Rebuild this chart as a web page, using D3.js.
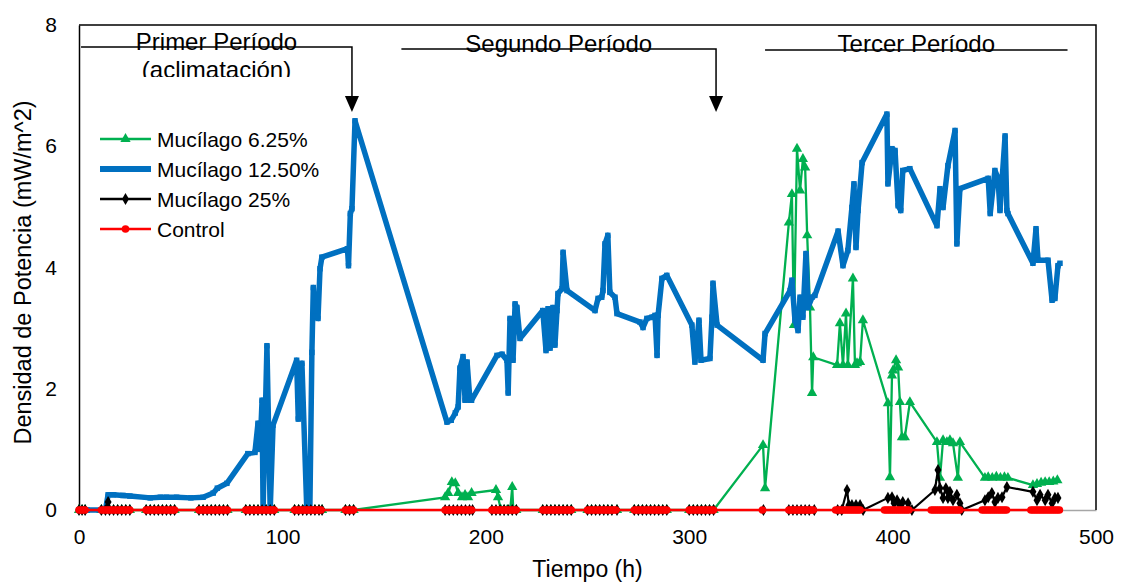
<!DOCTYPE html>
<html><head><meta charset="utf-8">
<script src="https://cdn.jsdelivr.net/npm/d3@7"></script>
<style>body{margin:0;background:#fff} text{font-family:"Liberation Sans",Arial,sans-serif;fill:#000}</style>
</head><body><svg id="c" width="1121" height="582"></svg>
<script>
// ---------------- DATA ----------------
const seriesNames = ["Mucílago 6.25%", "Mucílago 12.50%", "Mucílago 25%", "Control"];
const xTicks = [0, 100, 200, 300, 400, 500];
const yTicks = [0, 2, 4, 6, 8];
const xTitle = "Tiempo (h)";
const yTitle = "Densidad de Potencia (mW/m^2)";

const periodLabels = ["Primer Período", "Segundo Período", "Tercer Período"];
const periodSub = "(aclimatación)";
const periodStart = [1, 158.5, 337.3];
const periodEnd = [134.2, 313.2, 486];
const periodArrow = [true, true, false];

// [tiempo (h), densidad (mW/m^2)]
const green625 = [
 [0,0],[1.5,0],[3,0],[11,0],[13,0],[15,0],[17,0],[19,0],[21,0],[23,0],[25,0],
 [33,0],[35,0],[37,0],[39,0],[41,0],[43,0],[45,0],[47,0],
 [59,0],[61,0],[63,0],[65,0],[67,0],[69,0],[71,0],[73,0],
 [82,0],[84,0],[86,0],[88,0],[90,0],[92,0],[94,0],[96,0],
 [106,0],[108,0],[110,0],[112,0],[114,0],[116,0],[118,0],[119.5,0],
 [131,0],[133,0],[135,0],
 [180,0.21],[181.5,0.28],[183.3,0.46],[185,0.44],[186.4,0.28],[188.3,0.21],[189.8,0.25],[191.3,0.21],[193,0.28],
 [205,0.33],[206,0.21],[207.5,0],[209,0],[210.5,0],[212,0],[213,0.38],[213.5,0],[215,0],
 [228,0],[230,0],[232,0],[234,0],[236,0],[238,0],[240,0],[242,0],
 [250,0],[252,0],[254,0],[256,0],[258,0],[260,0],[262,0],[264.5,0],
 [273,0],[275,0],[277,0],[279,0],[281,0],[283,0],[285,0],[287,0],[289,0],
 [300,0],[302,0],[304,0],[306,0],[308,0],[310,0],[312,0],
 [336.3,1.07],[337.3,0.36],
 [349,4.74],[350.5,5.21],[351.5,3.05],[353,5.96],[354.5,5.27],[355.9,5.79],[357,5.65],[358,4.53],[359.4,3.34],[360.4,1.93],[361,2.52],
 [372.7,2.39],[374.1,3.08],[375.6,2.39],[377.1,3.24],[378,2.39],[380.5,3.82],[381.5,2.39],[382.5,2.42],[384,2.44],[385.4,3.13],
 [397.7,1.76],[398.7,0.54],[399.7,2.22],[400.2,2.3],[401.7,2.47],[402.7,2.35],[403.6,1.78],[404.6,1.2],[406,1.2],[408.5,1.78],
 [421.8,1.12],[423.3,0.53],[424.8,1.15],[426.7,1.12],[428.2,1.15],[429.7,1.1],[432.1,0.53],[433.1,1.12],
 [445.4,0.53],[447,0.54],[449,0.53],[451,0.55],[453,0.53],[455,0.54],[456.7,0.53],
 [469,0.41],[471,0.43],[473,0.45],[475,0.46],[477,0.46],[479,0.47],[481,0.49]
];

const blue1250 = [
 [0,0],[2,0],[4,0],[11,0],[13,0],[14.3,0.25],[17,0.25],[21.6,0.24],[25,0.23],[35,0.2],[40,0.21],[43,0.21],[48,0.21],
 [55,0.2],[61,0.21],[66,0.28],[68,0.36],[72.7,0.44],[83,0.93],[86.5,0.95],[88,1.43],[89,1.0],[90,1.81],[90.5,0],
 [92.4,2.71],[94,0],[95.4,1.4],[107,2.47],[107.8,1.5],[109.6,2.42],[112,0],[113.5,0],[114.5,2.6],[115.2,3.67],
 [116,3.2],[117.5,3.16],[118.5,3.98],[119.4,4.17],[132,4.31],[132.5,4.03],[133.4,4.89],[134.2,4.97],[135.7,6.42],
 [180.9,1.45],[183,1.48],[185,1.6],[186.4,1.7],[187.3,2.34],[188.8,2.53],[189.8,1.81],[190.8,2.44],[192.2,1.81],[193,1.81],
 [205.5,2.55],[208,2.57],[210.4,2.47],[211,1.93],[211.9,3.16],[213.4,2.47],[214.4,3.4],[215.3,3.34],[216.8,2.83],
 [228,3.29],[229.6,2.63],[230.6,3.32],[231.6,2.67],[233,3.34],[234,2.72],[235,3.29],[235.5,3.57],[237.5,3.65],[238,4.25],[239.9,3.62],
 [253.7,3.29],[255.2,3.49],[257,3.51],[257.6,3.62],[258.6,4.39],[260,4.53],[261,3.59],[263.5,3.51],[264.5,3.24],
 [275.8,3.1],[277.3,3.01],[279.2,3.16],[281.7,3.18],[283.2,3.21],[284.2,2.55],[284.7,3.21],[286.6,3.82],[289,3.87],
 [301.3,3.05],[302.8,2.44],[304.8,3.13],[305.8,2.47],[310.2,2.5],[311.2,3.18],[311.7,3.74],[313.7,3.05],
 [336.3,2.47],[337.3,2.91],
 [349.6,3.62],[350.5,3.79],[352,3.13],[353.5,2.96],[354.5,3.51],[355.9,3.18],[357.4,4.23],[358.4,3.34],[360.4,3.51],[361.8,3.54],
 [373.2,4.6],[375.6,4.03],[378,4.28],[380,4.99],[381,5.38],[382,4.33],[383,4.94],[385,5.73],
 [397.2,6.53],[397.7,5.38],[399.7,5.96],[401.2,5.93],[402.7,5.02],[404,4.94],[405,5.6],[408.5,5.63],
 [421.8,4.69],[423.3,5.3],[424.8,4.99],[427.2,5.68],[430.7,6.26],[431.6,4.39],[433.1,5.3],
 [447,5.47],[448,4.89],[450.3,5.6],[451.8,5.48],[452.8,4.94],[455.3,6.17],[456.2,4.94],[456.7,4.89],
 [469,4.07],[470.5,4.64],[471.5,4.12],[476.4,4.12],[478.4,3.46],[479.8,3.49],[481.3,4.03],[482.3,4.07]
];

const black25 = [
 [0,0],[1.5,0],[3,0],[11,0],[13,0],[14.3,0.13],[15,0],[17,0],[19,0],[21,0],[23,0],[25,0],
 [33,0],[35,0],[37,0],[39,0],[41,0],[43,0],[45,0],[47,0],
 [59,0],[61,0],[63,0],[65,0],[67,0],[69,0],[71,0],[73,0],
 [82,0],[84,0],[86,0],[88,0],[90,0],[92,0],[94,0],[96,0],
 [106,0],[108,0],[110,0],[112,0],[114,0],[116,0],[118,0],[119.5,0],
 [131,0],[133,0],[135,0],
 [180,0],[182,0],[184,0],[186,0],[188,0],[190,0],[192,0],[193.5,0],
 [203,0],[205,0],[207,0],[209,0],[211,0],[213,0],[215,0],
 [228,0],[230,0],[232,0],[234,0],[236,0],[238,0],[240,0],[242,0],
 [250,0],[252,0],[254,0],[256,0],[258,0],[260,0],[262,0],[264.5,0],
 [273,0],[275,0],[277,0],[279,0],[281,0],[283,0],[285,0],[287,0],[289,0],
 [300,0],[302,0],[304,0],[306,0],[308,0],[310,0],[312,0],
 [336.5,0],[349,0],[351,0],[353,0],[355,0],[357,0],[359,0],[361.5,0],
 [373,0],[375,0],[377.6,0.33],[378.5,0.08],[380,0.08],[382,0.08],[384,0.08],[385.5,0],
 [397.7,0.2],[399.7,0.21],[400.7,0.11],[402.2,0.16],[403.6,0.08],[405,0.13],[407.6,0.11],[409.5,0],
 [420.8,0.33],[422.3,0.66],[423.3,0.36],[424.8,0.2],[426.2,0.36],[427.2,0.2],[428.2,0.3],[429.7,0.16],[431.6,0.25],[433.1,0.11],[434,0],
 [445.4,0.16],[447,0.21],[448.8,0.28],[450.3,0.13],[451.8,0.2],[453.8,0.21],[456.2,0.38],
 [469,0.3],[471,0.16],[472.5,0.25],[475,0.16],[476.4,0.25],[478.4,0.11],[479.8,0.2],[481.3,0.2]
];

const control = [
 [0,0],[1,0],[2,0],[3,0],
 [11,0],[12,0],[13,0],[14,0],[15,0],[16,0],[17,0],[18,0],[19,0],[20,0],[21,0],[22,0],[23,0],[24,0],[25,0],
 [33,0],[34,0],[35,0],[36,0],[37,0],[38,0],[39,0],[40,0],[41,0],[42,0],[43,0],[44,0],[45,0],[46,0],[47,0],
 [59,0],[60,0],[61,0],[62,0],[63,0],[64,0],[65,0],[66,0],[67,0],[68,0],[69,0],[70,0],[71,0],[72,0],[73,0],
 [82,0],[83,0],[84,0],[85,0],[86,0],[87,0],[88,0],[89,0],[90,0],[91,0],[92,0],[93,0],[94,0],[95,0],[96,0],
 [106,0],[107,0],[108,0],[109,0],[110,0],[111,0],[112,0],[113,0],[114,0],[115,0],[116,0],[117,0],[118,0],[119,0],
 [131,0],[132,0],[133,0],[134,0],[135,0],
 [180,0],[181,0],[182,0],[183,0],[184,0],[185,0],[186,0],[187,0],[188,0],[189,0],[190,0],[191,0],[192,0],[193,0],
 [203,0],[204,0],[205,0],[206,0],[207,0],[208,0],[209,0],[210,0],[211,0],[212,0],[213,0],[214,0],[215,0],
 [228,0],[229,0],[230,0],[231,0],[232,0],[233,0],[234,0],[235,0],[236,0],[237,0],[238,0],[239,0],[240,0],[241,0],[242,0],
 [250,0],[251,0],[252,0],[253,0],[254,0],[255,0],[256,0],[257,0],[258,0],[259,0],[260,0],[261,0],[262,0],[263,0],[264,0],
 [273,0],[274,0],[275,0],[276,0],[277,0],[278,0],[279,0],[280,0],[281,0],[282,0],[283,0],[284,0],[285,0],[286,0],[287,0],[288,0],[289,0],
 [300,0],[301,0],[302,0],[303,0],[304,0],[305,0],[306,0],[307,0],[308,0],[309,0],[310,0],[311,0],[312,0],
 [336,0],
 [349,0],[350,0],[351,0],[352,0],[353,0],[354,0],[355,0],[356,0],[357,0],[358,0],[359,0],[360,0],[361,0],
 [372,0],[373,0],[374,0],[375,0],[376,0],[377,0],[378,0],[379,0],[380,0],[381,0],[382,0],[383,0],[384,0],
 [396,0],[397,0],[398,0],[399,0],[400,0],[401,0],[402,0],[403,0],[404,0],[405,0],[406,0],[407,0],[408,0],
 [419,0],[420,0],[421,0],[422,0],[423,0],[424,0],[425,0],[426,0],[427,0],[428,0],[429,0],[430,0],[431,0],[432,0],[433,0],
 [444,0],[445,0],[446,0],[447,0],[448,0],[449,0],[450,0],[451,0],[452,0],[453,0],[454,0],[455,0],[456,0],
 [468,0],[469,0],[470,0],[471,0],[472,0],[473,0],[474,0],[475,0],[476,0],[477,0],[478,0],[479,0],[480,0],[481,0],[482,0]
];

// ---------------- CHART ----------------
const svg = d3.select("#c");
const L = 79, R = 1096, T = 25, B = 510;
const x = d3.scaleLinear().domain([0, 500]).range([L, R]);
const y = d3.scaleLinear().domain([0, 8]).range([B, T]);

const cfg = [
  {data: green625, color: "#00B050", width: 2.3, marker: d3.symbolTriangle, msize: 46},
  {data: blue1250, color: "#0070C0", width: 5.5, marker: d3.symbolSquare, msize: 30},
  {data: black25, color: "#000000", width: 2.2, marker: d3.symbolDiamond, msize: 42},
  {data: control, color: "#FF0000", width: 2.5, marker: d3.symbolCircle, msize: 46}
];

// axes
const yAxis = d3.axisLeft(y).tickValues(yTicks).tickSize(0).tickPadding(22);
const gy = svg.append("g").attr("transform", `translate(${L},0)`).call(yAxis);
gy.select(".domain").attr("stroke", "#000").attr("stroke-width", 1.5);
gy.selectAll("text").style("font-size", "21px");

const xAxis = d3.axisBottom(x).tickValues(xTicks).tickSize(0).tickPadding(19);
const gx = svg.append("g").attr("transform", `translate(0,${B})`).call(xAxis);
gx.select(".domain").attr("stroke", "#a6a6a6").attr("stroke-width", 1.5);
gx.selectAll("text").style("font-size", "21px");

// plot border (top & right)
svg.append("path").attr("d", `M${L},${T}H${R}V${B}`).attr("fill", "none").attr("stroke", "#000").attr("stroke-width", 1.5);

// titles
svg.append("text").attr("x", (L + R) / 2).attr("y", 577).attr("text-anchor", "middle")
  .style("font-size", "23px").text(xTitle);
svg.append("text").attr("transform", `translate(31,${(T + B) / 2 + 5}) rotate(-90)`).attr("text-anchor", "middle")
  .style("font-size", "23.5px").text(yTitle);

// series
const line = d3.line().x(d => x(d[0])).y(d => y(d[1]));
cfg.forEach(c => {
  const g = svg.append("g");
  g.append("path").datum(c.data).attr("d", line).attr("fill", "none")
    .attr("stroke", c.color).attr("stroke-width", c.width).attr("stroke-linejoin", "round");
  g.selectAll("path.m").data(c.data).enter().append("path").attr("class", "m")
    .attr("transform", d => `translate(${x(d[0])},${y(d[1])})`)
    .attr("d", d3.symbol().type(c.marker).size(c.msize)).attr("fill", c.color);
});

// period annotations
const annY = [47, 49, 50];
const annTextY = [50, 52, 52];
periodLabels.forEach((lab, i) => {
  const x0 = x(periodStart[i]), x1 = x(periodEnd[i]);
  let d = `M${x0},${annY[i]}H${x1}`;
  if (periodArrow[i]) d += `V98`;
  svg.append("path").attr("d", d).attr("fill", "none").attr("stroke", "#000").attr("stroke-width", 1.5);
  if (periodArrow[i]) {
    svg.append("path").attr("d", `M${x1 - 7},96L${x1 + 7},96L${x1},112Z`).attr("fill", "#000");
  }
  svg.append("text").attr("x", (x0 + x1) / 2).attr("y", annTextY[i]).attr("text-anchor", "middle")
    .style("font-size", "24px").text(lab);
});
svg.append("clipPath").attr("id", "clipSub").append("rect").attr("x", 100).attr("y", 52).attr("width", 240).attr("height", 25);
svg.append("text").attr("x", (x(periodStart[0]) + x(periodEnd[0])) / 2).attr("y", 78).attr("text-anchor", "middle")
  .attr("clip-path", "url(#clipSub)").style("font-size", "24px").text(periodSub);

// legend
const legY = [139, 169, 199, 229];
cfg.forEach((c, i) => {
  const g = svg.append("g").attr("transform", `translate(0,${legY[i]})`);
  g.append("line").attr("x1", 100).attr("x2", 151).attr("stroke", c.color).attr("stroke-width", i === 1 ? 6 : 2.5);
  g.append("path").attr("transform", "translate(125.5,0)").attr("d", d3.symbol().type(c.marker).size(c.msize)).attr("fill", c.color);
  g.append("text").attr("x", 157).attr("dy", "0.36em").style("font-size", "21px").text(seriesNames[i]);
});
</script></body></html>
